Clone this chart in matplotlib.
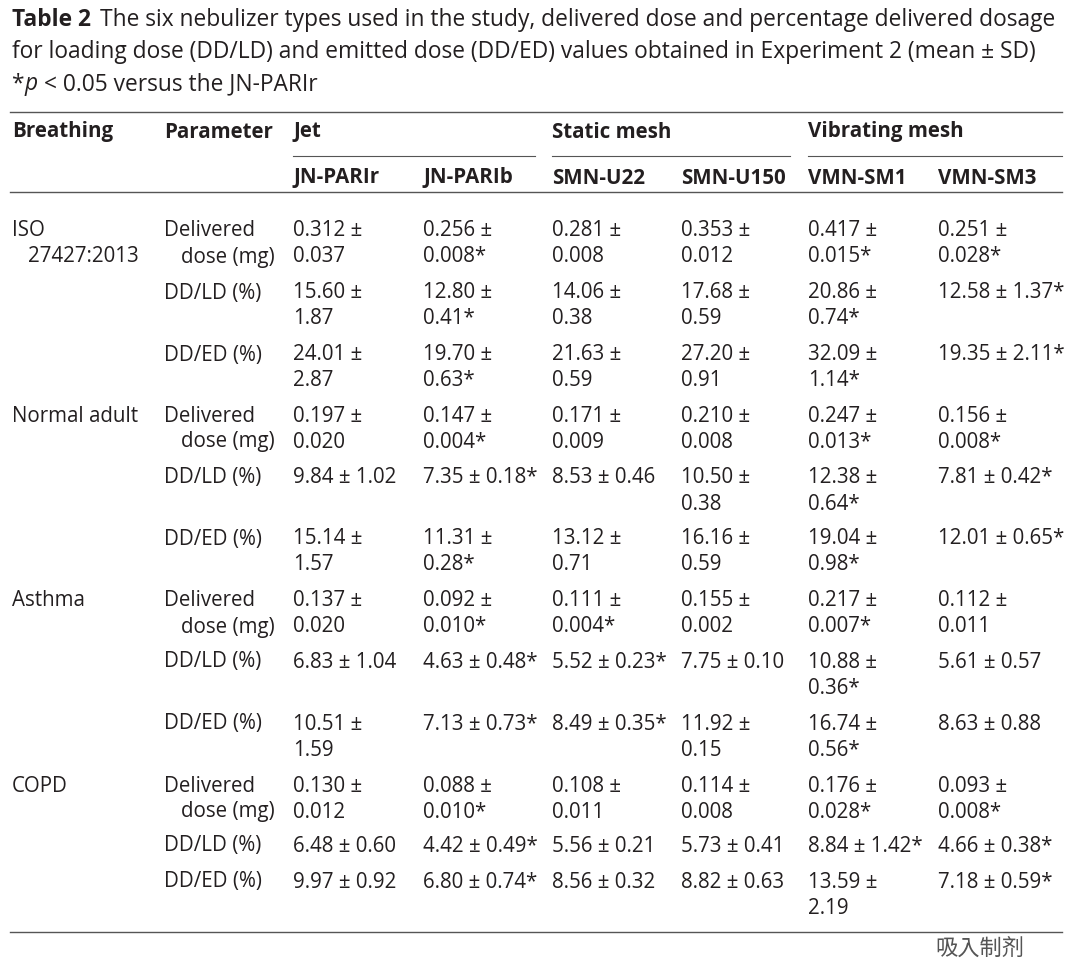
import matplotlib
matplotlib.use("Agg")
import matplotlib.pyplot as plt

W, H = 1080, 975
FONT = "Open Sans"
FS = 14.8
TS = 16.4
C = "#231f20"

title_lines = [
    "The six nebulizer types used in the study, delivered dose and percentage delivered dosage",
    "for loading dose (DD/LD) and emitted dose (DD/ED) values obtained in Experiment 2 (mean ± SD)",
]
groups = [("Jet", 293, 535), ("Static mesh", 552, 790), ("Vibrating mesh", 808, 1062)]
devices = ["JN-PARIr", "JN-PARIb", "SMN-U22", "SMN-U150", "VMN-SM1", "VMN-SM3"]
col_x = [293, 423, 552, 681, 808, 938]

breathing = [("ISO", "27427:2013"), ("Normal adult",), ("Asthma",), ("COPD",)]
breath_y = [231, 416, 601, 786]
params = ["Delivered\ndose (mg)", "DD/LD (%)", "DD/ED (%)"] * 4
row_y = [231, 293, 355, 416, 478, 539, 601, 662, 724, 786, 846, 882]
values = [
    ["0.312 ±\n0.037", "0.256 ±\n0.008*", "0.281 ±\n0.008", "0.353 ±\n0.012", "0.417 ±\n0.015*", "0.251 ±\n0.028*"],
    ["15.60 ±\n1.87", "12.80 ±\n0.41*", "14.06 ±\n0.38", "17.68 ±\n0.59", "20.86 ±\n0.74*", "12.58 ± 1.37*"],
    ["24.01 ±\n2.87", "19.70 ±\n0.63*", "21.63 ±\n0.59", "27.20 ±\n0.91", "32.09 ±\n1.14*", "19.35 ± 2.11*"],
    ["0.197 ±\n0.020", "0.147 ±\n0.004*", "0.171 ±\n0.009", "0.210 ±\n0.008", "0.247 ±\n0.013*", "0.156 ±\n0.008*"],
    ["9.84 ± 1.02", "7.35 ± 0.18*", "8.53 ± 0.46", "10.50 ±\n0.38", "12.38 ±\n0.64*", "7.81 ± 0.42*"],
    ["15.14 ±\n1.57", "11.31 ±\n0.28*", "13.12 ±\n0.71", "16.16 ±\n0.59", "19.04 ±\n0.98*", "12.01 ± 0.65*"],
    ["0.137 ±\n0.020", "0.092 ±\n0.010*", "0.111 ±\n0.004*", "0.155 ±\n0.002", "0.217 ±\n0.007*", "0.112 ±\n0.011"],
    ["6.83 ± 1.04", "4.63 ± 0.48*", "5.52 ± 0.23*", "7.75 ± 0.10", "10.88 ±\n0.36*", "5.61 ± 0.57"],
    ["10.51 ±\n1.59", "7.13 ± 0.73*", "8.49 ± 0.35*", "11.92 ±\n0.15", "16.74 ±\n0.56*", "8.63 ± 0.88"],
    ["0.130 ±\n0.012", "0.088 ±\n0.010*", "0.108 ±\n0.011", "0.114 ±\n0.008", "0.176 ±\n0.028*", "0.093 ±\n0.008*"],
    ["6.48 ± 0.60", "4.42 ± 0.49*", "5.56 ± 0.21", "5.73 ± 0.41", "8.84 ± 1.42*", "4.66 ± 0.38*"],
    ["9.97 ± 0.92", "6.80 ± 0.74*", "8.56 ± 0.32", "8.82 ± 0.63", "13.59 ±\n2.19", "7.18 ± 0.59*"],
]

fig = plt.figure(figsize=(W / 100, H / 100), dpi=100)
fig.patch.set_facecolor("white")

def T(x, y, s, bold=False, size=FS, color=C, style="normal", family=FONT):
    return fig.text(x / W, 1 - y / H, s, ha="left", va="center", fontsize=size,
                    fontfamily=family, fontweight="bold" if bold else "normal",
                    color=color, fontstyle=style)

def L(x0, x1, y, lw=1.0):
    fig.add_artist(plt.Line2D([x0 / W, x1 / W], [1 - y / H, 1 - y / H], color="#555", lw=lw))

def cell(x, y, s, indent=17):
    for i, line in enumerate(s.split("\n")):
        T(x + (indent if i else 0), y + 26 * i, line)

# Title
T(12, 20, "Table 2", bold=True, size=TS)
T(100, 20, title_lines[0], size=TS)
T(12, 52, title_lines[1], size=TS)
T(11, 84, "*", size=TS)
T(24, 84, "p", size=TS, style="italic")
T(44, 84, "< 0.05 versus the JN-PARIr", size=TS)

L(10, 1062, 112)
T(12, 132, "Breathing", bold=True)
T(164, 132, "Parameter", bold=True)
for name, x0, x1 in groups:
    T(x0, 132, name, bold=True)
    L(x0, x1, 156, 0.8)
for d, x in zip(devices, col_x):
    T(x, 178, d, bold=True)
L(10, 1062, 192)

for b, y in zip(breathing, breath_y):
    T(12, y, b[0])
    if len(b) > 1:
        T(28, y + 26, b[1])
for p, y, vals in zip(params, row_y, values):
    cell(164, y, p)
    for v, x in zip(vals, col_x):
        cell(x, y, v, indent=0)

L(10, 1062, 932)
T(935, 948, "吸入制剂", size=16, color="#555",
  family=["Noto Sans CJK SC", "Noto Sans CJK JP", "Noto Sans CJK TC", "DejaVu Sans"])

fig.savefig("out.png", dpi=100)
